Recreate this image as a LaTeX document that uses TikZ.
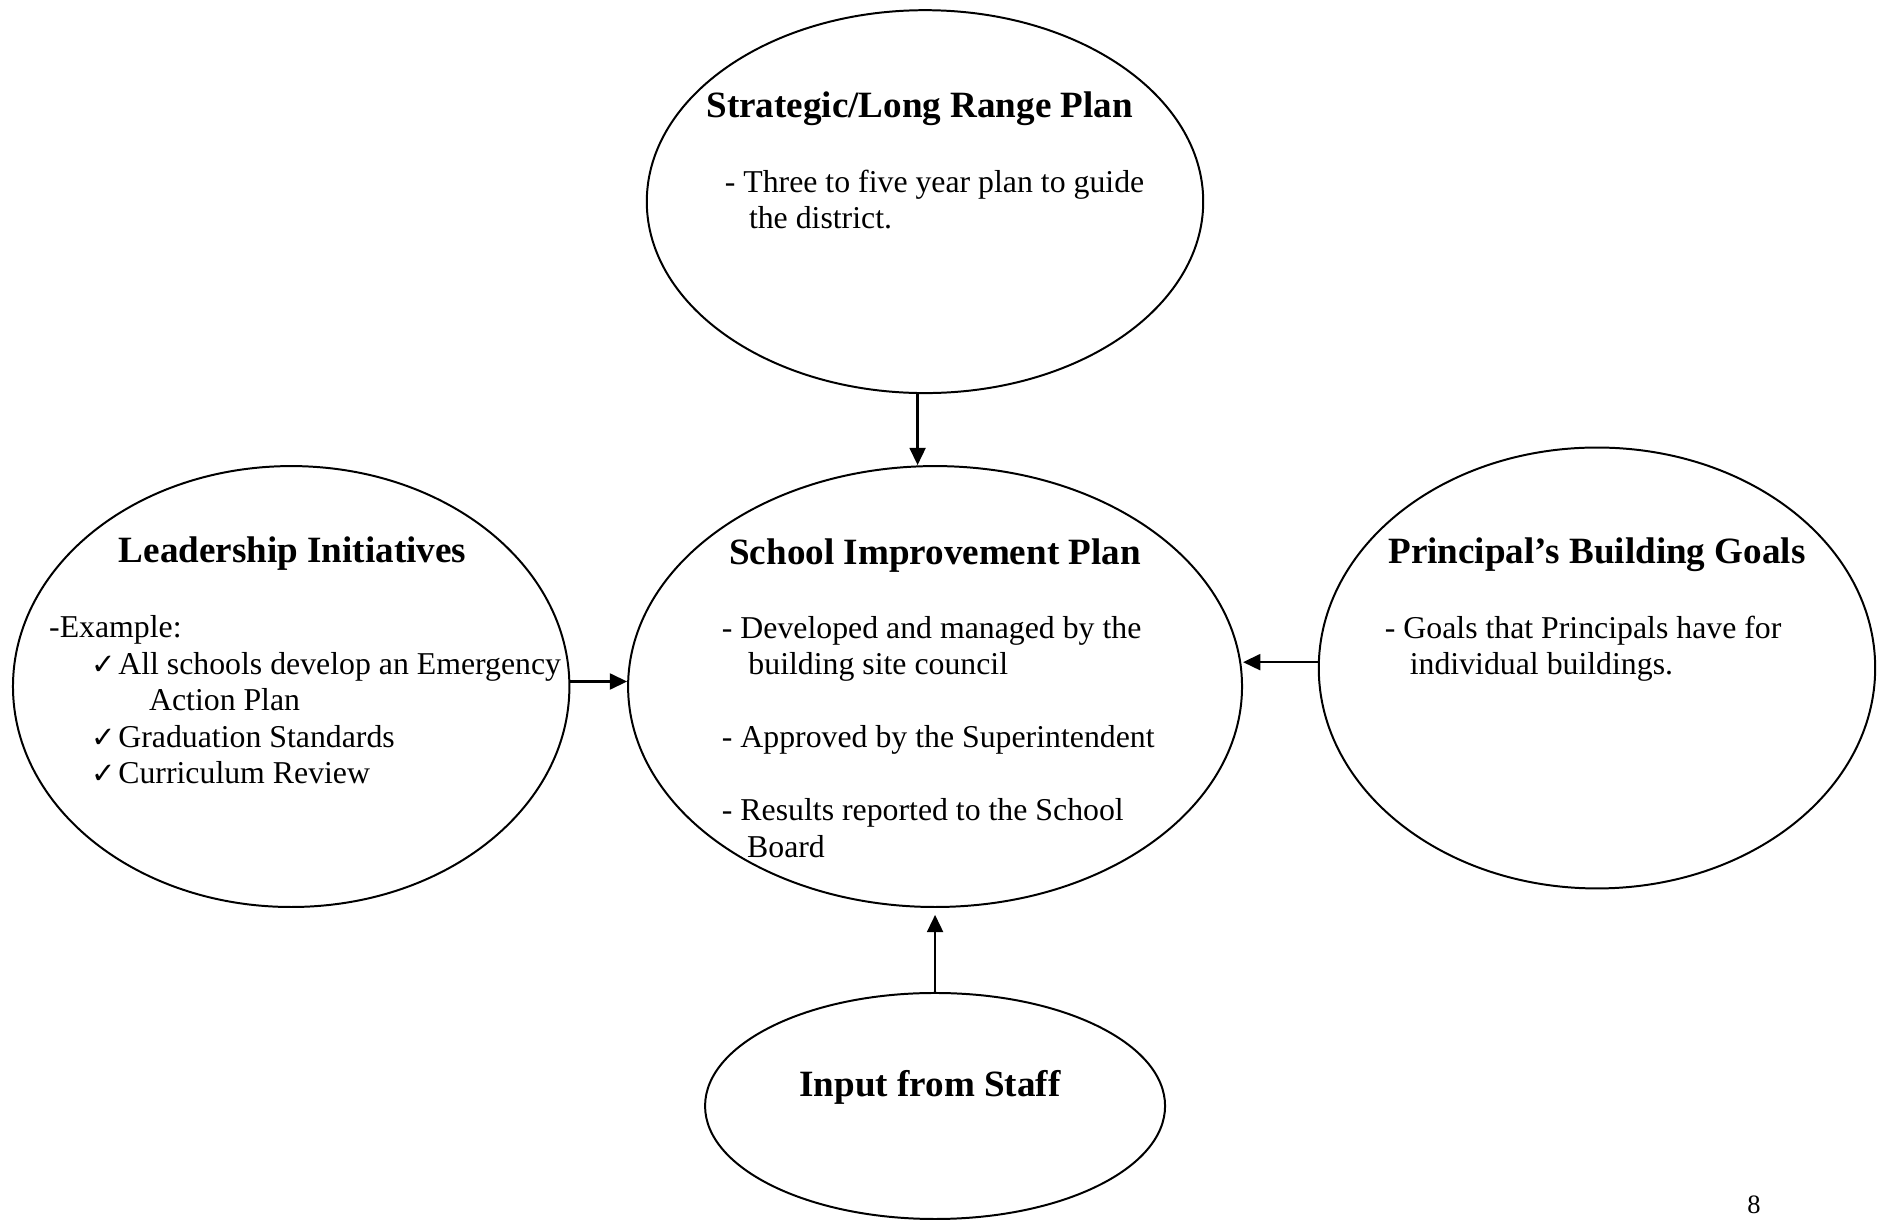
\documentclass[tikz,border=0pt]{standalone}
\usepackage{fontspec}
\setmainfont{Liberation Serif}
\newfontfamily\checkfont{DejaVu Sans}
\usetikzlibrary{shapes,arrows.meta}
\newcommand{\chk}{\makebox[10.2pt][l]{\checkfont\fontsize{11}{12}\selectfont ✓}}

\begin{document}
\begin{tikzpicture}[-{Triangle[length=6.5pt,width=6pt]}, line width=0.75pt,
    plan/.style={ellipse, draw, inner sep=0pt, minimum width=210pt, minimum height=166.4pt},
    headtxt/.style={font=\fontsize{14}{16}\selectfont\bfseries, anchor=base, inner sep=0pt},
    bodytxt/.style={font=\fontsize{12}{13.8}\selectfont, align=left, anchor=base west, inner sep=0pt}]
      \useasboundingbox (-352.9pt,-201pt) rectangle (358.5pt,259.1pt);
      \node [plan, minimum width=231.7pt] (sip) at (0,0) {};
      \node [plan, minimum height=144.5pt] (strat) [node distance=183pt, above of=sip, xshift=-3.8pt] {};
      \node [plan] (lead) [node distance=243pt, left of=sip] {};
      \node [plan] (princ) [node distance=249.8pt, right of=sip, yshift=7pt] {};
      \node [plan, minimum width=173.6pt, minimum height=85.3pt] (staff) [node distance=158.3pt, below of=sip] {};
      % texts (body nodes sit on the baseline of their last line)
      \node [headtxt] (strat-h) at ([shift={(-2pt,31.9pt)}]strat.center) {Strategic/Long Range Plan};
      \node [bodytxt] (strat-b) at ([shift={(-75.9pt,-10.2pt)}]strat.center)
        {- Three to five year plan to guide\\ \hspace*{9.1pt}the district.};
      \node [headtxt] (sip-h) at ([shift={(0pt,45.9pt)}]sip.center) {School Improvement Plan};
      \node [bodytxt] (sip-b) at ([shift={(-80.8pt,-64.5pt)}]sip.center)
        {- Developed and managed by the\\ \hspace*{10pt}building site council\\[13.8pt]
         - Approved by the Superintendent\\[13.8pt]
         - Results reported to the School\\ \hspace*{9.5pt}Board};
      \node [headtxt] (lead-h) at ([shift={(0.5pt,46.8pt)}]lead.center) {Leadership Initiatives};
      \node [bodytxt] (lead-b) at ([shift={(-91.7pt,-36.7pt)}]lead.center)
        {-Example:\\ \hspace*{15.9pt}\chk All schools develop an Emergency\\
         \hspace*{37.7pt}Action Plan\\ \hspace*{15.9pt}\chk Graduation Standards\\
         \hspace*{15.9pt}\chk Curriculum Review};
      \node [headtxt] (princ-h) at ([shift={(0pt,39.6pt)}]princ.center) {Principal’s Building Goals};
      \node [bodytxt] (princ-b) at ([shift={(-80.4pt,-2.5pt)}]princ.center)
        {- Goals that Principals have for\\ \hspace*{9.4pt}individual buildings.};
      \node [headtxt] (staff-h) at ([shift={(-1.9pt,3.4pt)}]staff.center) {Input from Staff};
      \node [font=\fontsize{10}{12}\selectfont, anchor=base, inner sep=0pt] (pagenum) at (309.1pt,-198.7pt) {8};
      \path [line width=0.9pt]
      ([xshift=-2.8pt]strat.south) edge ([xshift=-2.8pt]strat.south |- sip.north)
      ([yshift=1.9pt]lead.east) edge ([yshift=1.9pt]lead.east -| sip.west)
      ([yshift=2.2pt]princ.west) edge ([yshift=2.2pt]princ.west -| sip.east)
      (staff.north) edge [shorten >=2.6pt] (sip.south)
      ;
\end{tikzpicture}
\end{document}
